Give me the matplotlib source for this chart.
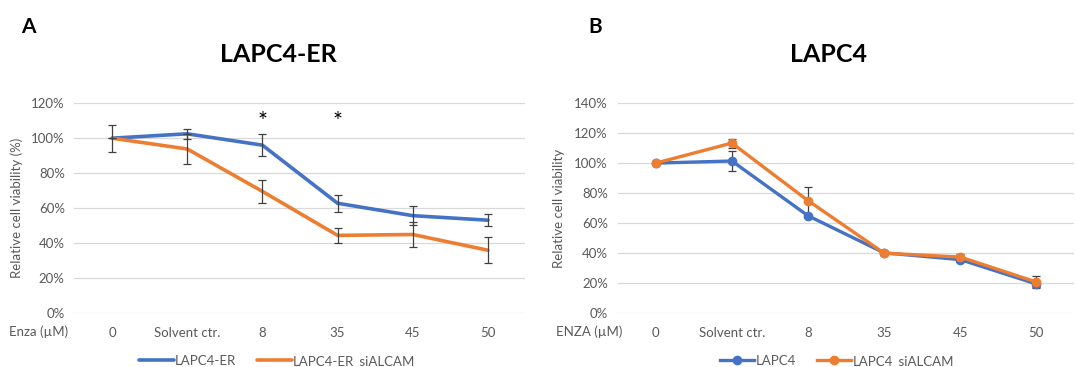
import matplotlib
matplotlib.use("Agg")
import matplotlib.pyplot as plt
from matplotlib.ticker import FuncFormatter

plt.rcParams['font.family'] = ['Lato', 'DejaVu Sans']

categories = ["0", "Solvent ctr.", "8", "35", "45", "50"]

# Panel A (LAPC4-ER)
a_blue = [100, 102.5, 96, 62.7, 55.6, 53]
a_blue_err = [7.7, 3, 6.5, 5, 5.3, 3.5]
a_orange = [100, 93.8, 69.5, 44.3, 44.8, 35.8]
a_orange_err = [0, 8.5, 6.5, 4.3, 7, 7.6]
a_labels = ["LAPC4-ER", "LAPC4-ER_siALCAM"]
a_stars = ["8", "35"]

# Panel B (LAPC4)
b_blue = [100, 101.4, 64.8, 40, 35.5, 19.2]
b_blue_err = [0, 6.5, 0, 1, 1.5, 2]
b_orange = [100, 113.4, 74.9, 39.8, 37.2, 20.5]
b_orange_err = [0, 3, 9.3, 1, 2, 4]
b_labels = ["LAPC4", "LAPC4_siALCAM"]

BLUE = "#4472C4"
ORANGE = "#ED7D31"
GRAY = "#595959"

fig = plt.figure(figsize=(10.75, 3.67), dpi=100)
axA = fig.add_axes([0.0693, 0.148, 0.4195, 0.5706])
axB = fig.add_axes([0.5746, 0.148, 0.4249, 0.5706])

x = list(range(len(categories)))

def style(ax, ymax, ylabel, lab_x):
    ax.set_xlim(-0.5, len(categories) - 0.5)
    ax.set_ylim(0, ymax)
    ax.set_yticks(range(0, ymax + 1, 20))
    ax.yaxis.set_major_formatter(FuncFormatter(lambda v, p: f"{int(v)}%"))
    ax.set_xticks(x)
    ax.set_xticklabels(categories)
    for s in ax.spines.values():
        s.set_visible(False)
    ax.grid(axis='y', color='#D9D9D9', linewidth=0.9)
    ax.set_axisbelow(True)
    ax.tick_params(length=0, labelsize=9.5, colors=GRAY)
    ax.tick_params(axis='y', pad=7)
    ax.tick_params(axis='x', pad=10)
    ax.set_ylabel(ylabel, fontsize=9.5, color=GRAY)
    ax.yaxis.set_label_coords(lab_x, 0.5)

err_kw = dict(fmt='none', ecolor='#404040', elinewidth=0.9, capsize=3, capthick=0.9)

# Panel A
style(axA, 120, "Relative cell viability (%)", -0.114)
axA.plot(x, a_blue, color=BLUE, lw=2.6, label=a_labels[0], zorder=3, solid_capstyle='round')
axA.plot(x, a_orange, color=ORANGE, lw=2.6, label=a_labels[1], zorder=3, solid_capstyle='round')
axA.errorbar(x, a_blue, yerr=a_blue_err, zorder=4, **err_kw)
axA.errorbar(x, a_orange, yerr=a_orange_err, zorder=4, **err_kw)
for c in a_stars:
    axA.text(categories.index(c), 109.5, "*", ha='center', va='center', fontsize=17, color='black')
fig.text(68 / 1075, 1 - 332 / 367, "Enza (µM)", ha='right', va='center', fontsize=9.5, color=GRAY)
axA.legend(loc='upper center', bbox_to_anchor=(0.45, -0.145), ncol=2, frameon=False,
           fontsize=9.5, labelcolor=GRAY, handlelength=2.6, handletextpad=0.1, columnspacing=1.6)

# Panel B
style(axB, 140, "Relative cell viability", -0.115)
axB.errorbar(x, b_blue, yerr=b_blue_err, zorder=2, **err_kw)
axB.errorbar(x, b_orange, yerr=b_orange_err, zorder=2, **err_kw)
axB.plot(x, b_blue, color=BLUE, lw=2.4, marker='o', ms=6, label=b_labels[0], zorder=3)
axB.plot(x, b_orange, color=ORANGE, lw=2.4, marker='o', ms=6, label=b_labels[1], zorder=3)
fig.text(622 / 1075, 1 - 332 / 367, "ENZA (µM)", ha='right', va='center', fontsize=9.5, color=GRAY)
axB.legend(loc='upper center', bbox_to_anchor=(0.48, -0.145), ncol=2, frameon=False,
           fontsize=9.5, labelcolor=GRAY, handlelength=2.6, handletextpad=0.1, columnspacing=1.6)

# Titles and panel letters
fig.text(278 / 1075, 1 - 55 / 367, "LAPC4-ER", ha='center', va='center', fontsize=18, fontweight='bold')
fig.text(828 / 1075, 1 - 55 / 367, "LAPC4", ha='center', va='center', fontsize=18, fontweight='bold')
fig.text(28 / 1075, 1 - 27 / 367, "A", ha='center', va='center', fontsize=15, fontweight='bold')
fig.text(595 / 1075, 1 - 27 / 367, "B", ha='center', va='center', fontsize=15, fontweight='bold')

fig.savefig("out.png", dpi=100)
